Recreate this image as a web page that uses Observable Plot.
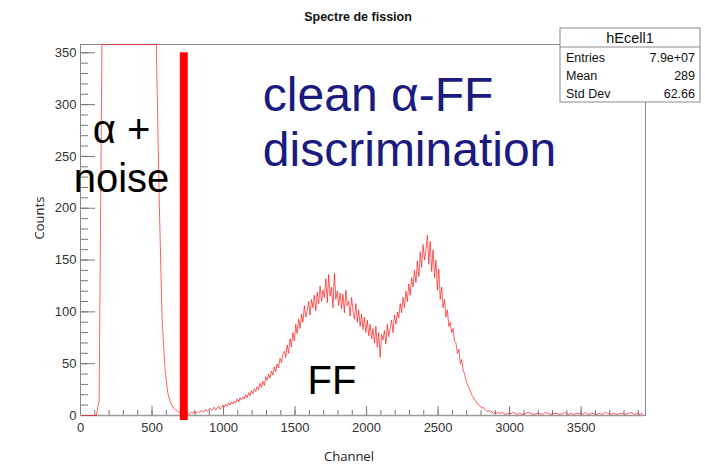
<!DOCTYPE html>
<html><head><meta charset="utf-8">
<script src="https://cdn.jsdelivr.net/npm/d3@7"></script>
<script src="https://cdn.jsdelivr.net/npm/@observablehq/plot@0.6"></script>
<style>
body{margin:0;background:#fff}
#chart{width:705px;height:469px}
</style>
</head><body><div id="chart"></div>
<script>
// ---- data ----
// alpha + noise region: 20-channel bins from channel 0 (saturated values run off the top)
const alphaStart = 0, alphaBin = 20;
const alphaCounts = [
  0,0,0,0,0,0,14,4000,
  8200,15000,21000,26000,30000,33000,35000,36000,35000,33000,30000,27000,23000,19000,15000,11000,7500,4200,1500,
  210,95,46,22,12,7,5,3,2
];
// fission-fragment region: 10-channel bins from channel 720
const ffStart = 720, ffBin = 10;
const ffCounts = [
  2,1,3,2,1,3,2,4,2,3,
  4,3,5,3,4,6,4,5,7,5,
  6,8,5,7,9,6,8,10,8,11,
  9,12,10,13,11,14,12,16,13,17,
  15,18,16,20,17,22,19,24,21,26,
  23,28,25,31,27,33,29,37,34,40,
  36,43,39,47,42,50,46,55,51,59,
  62,56,68,60,74,66,80,72,88,79,
  93,84,98,90,106,95,101,110,97,112,
  104,116,101,119,108,125,110,121,114,132,
  109,136,115,124,104,137,112,120,106,118,
  103,117,99,121,106,110,96,114,101,93,
  108,90,102,86,98,83,95,80,92,77,
  88,74,84,70,86,66,80,56,78,73,
  82,69,88,76,84,92,80,97,88,100,
  94,108,99,114,104,120,110,127,116,133,
  124,140,128,149,134,158,143,165,150,160,
  174,146,168,139,160,133,150,121,141,112,
  124,104,112,95,102,86,90,80,84,72,
  70,60,64,50,54,44,40,34,30,27,
  24,20,18,15,14,11,10,9,7,8,
  6,5,4,5,3,4,2,3,2,3
];
// flat tail: 20-channel bins from channel 2920
const tailStart = 2920, tailBin = 20;
const tailCounts = [
  2,3,1,2,2,3,1,2,1,2,3,2,1,2,2,1,3,2,1,2,2,1,2,3,1,2,1,2,2,1,
  3,1,2,2,1,2,1,3,2,1,2,1,2,2,1,2,3,1,2,1,2
];
const xTicks = [0, 500, 1000, 1500, 2000, 2500, 3000, 3500];
const yTicks = [0, 50, 100, 150, 200, 250, 300, 350];
const xMax = 3950, yMax = 358;
const cutChannel = [722];
const cutTop = 350;
const title = "Spectre de fission";
const xLabel = "Channel";
const yLabel = "Counts";
const statsName = "hEcell1";
const statsLabels = ["Entries", "Mean", "Std Dev"];
const statsValues = ["7.9e+07", "289", "62.66"];
const blueNote = [
  {text: "clean α-FF", channel: 1275, count: 294},
  {text: "discrimination", channel: 1275, count: 241}
];
const blackNote = [
  {text: "α +", channel: 287, count: 263},
  {text: "noise", channel: 287, count: 216},
  {text: "FF", channel: 1758, count: 21}
];

// ---- build ----
const seg = (arr, start, w) => arr.map((c, i) => ({channel: start + i * w + w / 2, count: c}));
const rows = [
  ...seg(alphaCounts, alphaStart, alphaBin),
  ...seg(ffCounts, ffStart, ffBin),
  ...seg(tailCounts, tailStart, tailBin)
];

const W = 705, H = 469, mL = 80, mR = 60, mT = 44, mB = 54;
const fW = W - mL - mR, fH = H - mT - mB;
const minorX = d3.range(0, xMax, 100);
const minorY = d3.range(0, 351, 10);

const svg = Plot.plot({
  width: W, height: H,
  marginLeft: mL, marginRight: mR, marginTop: mT, marginBottom: mB,
  style: {fontFamily: "'Liberation Sans', Arial, sans-serif", fontSize: "13px", color: "#333", background: "#fff"},
  x: {domain: [0, xMax], ticks: xTicks, tickSize: 0, tickPadding: 7, tickFormat: d => String(d), label: null},
  y: {domain: [0, yMax], clamp: true, ticks: yTicks, tickSize: 0, tickPadding: 4, tickFormat: d => String(d), label: null},
  marks: [
    Plot.ruleX(minorX, {stroke: "#777", insetTop: fH - 5}),
    Plot.ruleX(xTicks, {stroke: "#777", insetTop: fH - 9}),
    Plot.ruleY(minorY, {stroke: "#777", insetRight: fW - 8}),
    Plot.ruleY(yTicks, {stroke: "#777", insetRight: fW - 15}),
    Plot.frame({stroke: "#8a8a8a"}),
    Plot.ruleY([0], {stroke: "#9a9a9a", strokeWidth: 1.5}),
    Plot.line(rows, {x: "channel", y: "count", curve: "linear", stroke: "#ff0000", strokeWidth: 0.9, strokeOpacity: 0.7}),
    Plot.ruleX(cutChannel, {y1: cutTop, y2: 0, stroke: "#ff0000", strokeWidth: 8, insetBottom: -5}),
    Plot.text(blueNote, {x: "channel", y: "count", text: "text", textAnchor: "start", lineAnchor: "bottom",
      fill: "#1a1a80", fontSize: 48, fontFamily: "'Liberation Sans', Arial, sans-serif"}),
    Plot.text(blackNote, {x: "channel", y: "count", text: "text", textAnchor: "middle", lineAnchor: "bottom",
      fill: "#000", fontSize: 40, fontFamily: "'Liberation Sans', Arial, sans-serif"})
  ]
});

const s = d3.select(svg);
s.append("text").attr("x", 358).attr("y", 21).attr("text-anchor", "middle")
  .attr("font-family", "'Liberation Sans', Arial, sans-serif").attr("font-weight", "bold")
  .attr("font-size", 12.5).attr("fill", "#111").text(title);
s.append("text").attr("x", 349).attr("y", 461).attr("text-anchor", "middle")
  .attr("font-family", "'Open Sans', sans-serif").attr("font-size", 13).attr("fill", "#222").text(xLabel);
s.append("text").attr("transform", "translate(44,218) rotate(-90)").attr("text-anchor", "middle")
  .attr("font-family", "'Open Sans', sans-serif").attr("font-size", 13).attr("fill", "#222").text(yLabel);

// stats box
const bx = 560, by = 28, bw = 140, bh = 74;
const g = s.append("g").attr("font-family", "'Liberation Sans', Arial, sans-serif").attr("fill", "#111");
g.append("rect").attr("x", bx).attr("y", by).attr("width", bw).attr("height", bh)
  .attr("fill", "#fff").attr("stroke", "#8a8a8a");
g.append("line").attr("x1", bx).attr("x2", bx + bw).attr("y1", 47).attr("y2", 47).attr("stroke", "#8a8a8a");
g.append("text").attr("x", bx + bw / 2).attr("y", 43).attr("text-anchor", "middle").attr("font-size", 14.5).text(statsName);
statsLabels.forEach((lab, i) => {
  const yy = 62 + i * 18;
  g.append("text").attr("x", bx + 6).attr("y", yy).attr("text-anchor", "start").attr("font-size", 12.5).text(lab);
  g.append("text").attr("x", bx + bw - 5).attr("y", yy).attr("text-anchor", "end").attr("font-size", 12.5).text(statsValues[i]);
});

document.getElementById("chart").appendChild(svg);
</script>
</body></html>
